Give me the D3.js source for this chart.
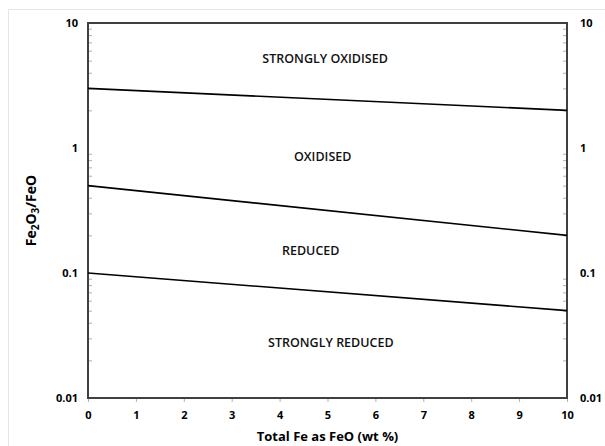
<!DOCTYPE html>
<html>
<head>
<meta charset="utf-8">
<script src="https://cdn.jsdelivr.net/npm/d3@7"></script>
<style>
  body { margin: 0; background: #fff; }
  text { font-family: "Open Sans", "DejaVu Sans", sans-serif; }
</style>
</head>
<body>
<div id="chart"></div>
<script>
// boundary lines: Fe2O3/FeO ratio at FeO = 0 and FeO = 10
var feo = [0, 10];
var upperLine = [3, 2];
var middleLine = [0.5, 0.2];
var lowerLine = [0.1, 0.05];

// field labels and where they sit (data coords)
var fieldNames = ["STRONGLY OXIDISED", "OXIDISED", "REDUCED", "STRONGLY REDUCED"];
var fieldX = [4.95, 4.9, 4.65, 5.07];
var fieldY = [5.2, 0.86, 0.152, 0.0275];

var xTicks = [0, 1, 2, 3, 4, 5, 6, 7, 8, 9, 10];
var yTicks = [0.01, 0.1, 1, 10];
var yTickLabels = ["0.01", "0.1", "1", "10"];

var W = 605, H = 446;
var margin = {top: 23, right: 38, bottom: 48, left: 88},
    width = W - margin.left - margin.right,
    height = H - margin.top - margin.bottom;

var root = d3.select("#chart")
  .append("svg")
    .attr("width", W)
    .attr("height", H);

// faint outer frame
root.append("rect")
  .attr("x", 8.5).attr("y", 9.5)
  .attr("width", W).attr("height", H)
  .attr("fill", "none")
  .attr("stroke", "#e6e6e6");

var svg = root.append("g")
  .attr("transform", "translate(" + margin.left + "," + margin.top + ")");

var x = d3.scaleLinear().domain([0, 10]).range([0, width]);
var y = d3.scaleLog().domain([0.01, 10]).range([height, 0]);

// minor ticks (2..9 in every decade), inside on both sides
var minor = [];
[0.01, 0.1, 1].forEach(function(d) {
  for (var k = 2; k <= 9; k++) minor.push(d * k);
});

svg.append("g")
  .attr("class", "minor-left")
  .call(d3.axisRight(y).tickValues(minor).tickSize(4).tickFormat(""))
  .call(function(g) { g.select(".domain").remove(); })
  .selectAll("line").attr("stroke", "#b0b0b0");

svg.append("g")
  .attr("class", "minor-right")
  .attr("transform", "translate(" + width + ",0)")
  .call(d3.axisLeft(y).tickValues(minor).tickSize(4).tickFormat(""))
  .call(function(g) { g.select(".domain").remove(); })
  .selectAll("line").attr("stroke", "#b0b0b0");

// X axis
var xAxis = svg.append("g")
  .attr("transform", "translate(0," + height + ")")
  .call(d3.axisBottom(x).tickValues(xTicks).tickSize(4).tickPadding(9).tickFormat(d3.format("d")));
xAxis.select(".domain").remove();
xAxis.selectAll("line").attr("stroke", "#b0b0b0");
xAxis.selectAll("text")
  .attr("font-size", 11).attr("font-weight", "bold").attr("fill", "#000");

// Y axis left
var yLeft = svg.append("g")
  .call(d3.axisLeft(y).tickValues(yTicks).tickSize(0).tickPadding(10)
    .tickFormat(function(d, i) { return yTickLabels[i]; }));
yLeft.select(".domain").remove();
yLeft.selectAll("text")
  .attr("font-size", 11).attr("font-weight", "bold").attr("fill", "#000");

// Y axis right
var yRight = svg.append("g")
  .attr("transform", "translate(" + width + ",0)")
  .call(d3.axisRight(y).tickValues(yTicks).tickSize(0).tickPadding(13)
    .tickFormat(function(d, i) { return yTickLabels[i]; }));
yRight.select(".domain").remove();
yRight.selectAll("text")
  .attr("font-size", 11).attr("font-weight", "bold").attr("fill", "#000");

// plot border
svg.append("rect")
  .attr("x", 0).attr("y", 0)
  .attr("width", width).attr("height", height)
  .attr("fill", "none")
  .attr("stroke", "#404040")
  .attr("stroke-width", 2);

// boundary lines
var line = d3.line()
  .x(function(d) { return x(d[0]); })
  .y(function(d) { return y(d[1]); });

[upperLine, middleLine, lowerLine].forEach(function(s) {
  svg.append("path")
    .datum(feo.map(function(f, i) { return [f, s[i]]; }))
    .attr("d", line)
    .attr("fill", "none")
    .attr("stroke", "#000")
    .attr("stroke-width", 1.6);
});

// field labels
svg.selectAll(".field")
  .data(fieldNames)
  .enter().append("text")
    .attr("class", "field")
    .attr("x", function(d, i) { return x(fieldX[i]); })
    .attr("y", function(d, i) { return y(fieldY[i]); })
    .attr("dy", "0.35em")
    .attr("text-anchor", "middle")
    .attr("font-size", 12.5)
    .attr("font-weight", 600)
    .attr("fill", "#111")
    .text(function(d) { return d; });

// axis titles
root.append("text")
  .attr("x", margin.left + width / 2)
  .attr("y", 441)
  .attr("text-anchor", "middle")
  .attr("font-size", 13)
  .attr("font-weight", "bold")
  .text("Total Fe as FeO (wt %)");

var yt = root.append("text")
  .attr("transform", "translate(36," + (margin.top + height / 2) + ") rotate(-90)")
  .attr("text-anchor", "middle")
  .attr("font-size", 14)
  .attr("font-weight", "bold");
yt.append("tspan").text("Fe");
yt.append("tspan").attr("font-size", 10).attr("dy", 3).text("2");
yt.append("tspan").attr("dy", -3).text("O");
yt.append("tspan").attr("font-size", 10).attr("dy", 3).text("3");
yt.append("tspan").attr("dy", -3).text("/FeO");
</script>
</body>
</html>
